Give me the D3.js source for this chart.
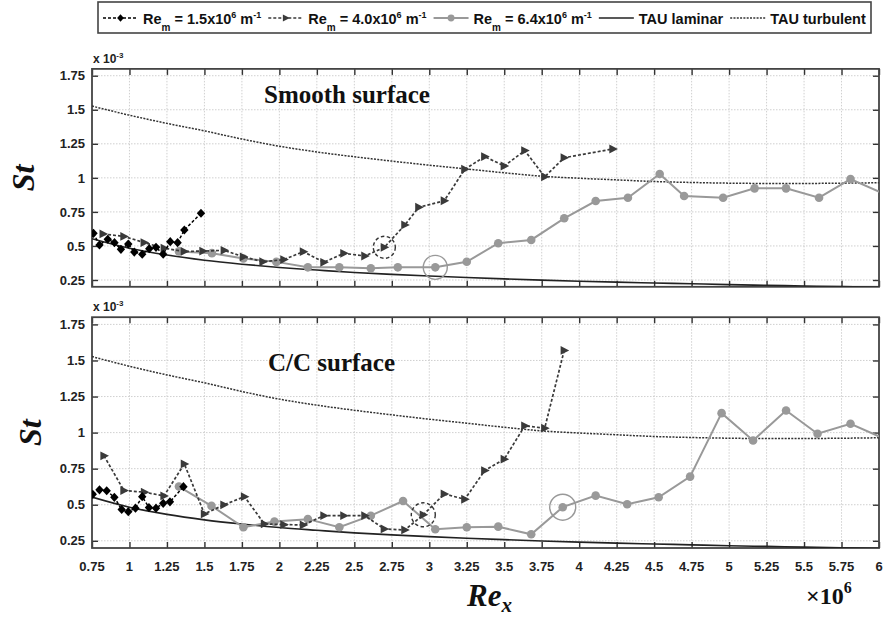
<!DOCTYPE html>
<html><head><meta charset="utf-8">
<script src="https://cdn.jsdelivr.net/npm/d3@7"></script>
<style>body{margin:0;background:#fff} svg{display:block}</style>
</head><body>
<svg id="chart" width="885" height="617"></svg>
<script>
// Re_x in units of 10^6, St in units of 10^-3
const xTicks = [0.75,1,1.25,1.5,1.75,2,2.25,2.5,2.75,3,3.25,3.5,3.75,4,4.25,4.5,4.75,5,5.25,5.5,5.75,6];
const xTickLabels = ["0.75","1","1.25","1.5","1.75","2","2.25","2.5","2.75","3","3.25","3.5","3.75","4","4.25","4.5","4.75","5","5.25","5.5","5.75","6"];
const yTicks = [0.25,0.5,0.75,1,1.25,1.5,1.75];
const yTickLabels = ["0.25","0.5","0.75","1","1.25","1.5","1.75"];

// TAU reference solutions
const tauLaminar = [[0.75,0.553],[1,0.483],[1.25,0.433],[1.5,0.395],[1.75,0.366],[2,0.342],[2.25,0.323],[2.5,0.305],[2.75,0.291],[3,0.279],[3.25,0.268],[3.5,0.258],[3.75,0.249],[4,0.241],[4.25,0.234],[4.5,0.228],[4.75,0.222],[5,0.216],[5.25,0.211],[5.5,0.206],[5.75,0.201],[6,0.197]];
const tauTurbulent = [[0.75,1.527],[1,1.46],[1.25,1.40],[1.5,1.345],[1.75,1.285],[2,1.232],[2.25,1.19],[2.5,1.155],[2.75,1.123],[3,1.093],[3.25,1.065],[3.5,1.037],[3.75,1.012],[4,0.997],[4.25,0.985],[4.5,0.973],[4.75,0.966],[5,0.961],[5.25,0.959],[5.5,0.959],[5.75,0.961],[6,0.964]];

// Smooth surface measurements
const smoothRe15 = [[0.76,0.593],[0.80,0.507],[0.855,0.549],[0.90,0.524],[0.943,0.475],[0.992,0.514],[1.032,0.455],[1.085,0.439],[1.132,0.48],[1.177,0.49],[1.225,0.439],[1.272,0.531],[1.321,0.524],[1.366,0.617],[1.477,0.74]];
const smoothRe40 = [[0.824,0.588],[0.963,0.57],[1.098,0.525],[1.232,0.483],[1.366,0.46],[1.49,0.462],[1.632,0.468],[1.76,0.42],[1.89,0.384],[2.03,0.40],[2.16,0.458],[2.297,0.38],[2.43,0.446],[2.57,0.426],[2.70,0.49],[2.837,0.654],[2.93,0.784],[3.10,0.832],[3.237,1.063],[3.37,1.156],[3.50,1.087],[3.637,1.20],[3.77,1.008],[3.90,1.148],[4.225,1.212]];
const smoothRe64 = [[1.33,0.46],[1.55,0.447],[1.76,0.408],[1.98,0.383],[2.19,0.343],[2.40,0.343],[2.61,0.336],[2.79,0.343],[3.04,0.343],[3.25,0.384],[3.46,0.52],[3.68,0.544],[3.90,0.703],[4.11,0.83],[4.325,0.854],[4.537,1.028],[4.70,0.867],[4.96,0.854],[5.17,0.923],[5.38,0.923],[5.60,0.854],[5.81,0.991],[6.06,0.87]];

// C/C surface measurements
const ccRe15 = [[0.755,0.572],[0.80,0.603],[0.848,0.597],[0.899,0.551],[0.948,0.467],[0.992,0.452],[1.04,0.476],[1.085,0.556],[1.13,0.48],[1.177,0.476],[1.225,0.51],[1.27,0.52],[1.36,0.625]];
const ccRe40 = [[0.83,0.839],[0.963,0.598],[1.10,0.587],[1.23,0.561],[1.366,0.783],[1.50,0.436],[1.63,0.499],[1.767,0.556],[1.90,0.367],[2.03,0.362],[2.16,0.36],[2.297,0.424],[2.43,0.424],[2.57,0.424],[2.70,0.332],[2.837,0.325],[2.96,0.43],[3.10,0.575],[3.237,0.538],[3.37,0.737],[3.50,0.816],[3.637,1.047],[3.77,1.031],[3.90,1.57]];
const ccRe64 = [[1.33,0.626],[1.547,0.492],[1.76,0.344],[1.967,0.383],[2.19,0.40],[2.40,0.344],[2.61,0.424],[2.825,0.526],[3.04,0.33],[3.25,0.344],[3.46,0.348],[3.68,0.295],[3.89,0.483],[4.11,0.563],[4.32,0.503],[4.53,0.552],[4.74,0.695],[4.95,1.135],[5.16,0.945],[5.38,1.153],[5.59,0.992],[5.81,1.061],[6.06,0.946]];

const legendLabels = [
  {key:"re15", base:"Re", sub:"m", rest:" = 1.5x10", sup:"6", unit:" m", unitSup:"-1"},
  {key:"re40", base:"Re", sub:"m", rest:" = 4.0x10", sup:"6", unit:" m", unitSup:"-1"},
  {key:"re64", base:"Re", sub:"m", rest:" = 6.4x10", sup:"6", unit:" m", unitSup:"-1"},
  {key:"lam", text:"TAU laminar"},
  {key:"turb", text:"TAU turbulent"}
];

const panels = [
  {title:"Smooth surface", re15:smoothRe15, re40:smoothRe40, re64:smoothRe64,
   top:68.9, bottom:286.8, showX:false, titleX:264, titleY:103, stX:24,
   marks:[{series:"re40", index:14, r:11, dashed:true},{series:"re64", index:8, r:12, dashed:false}]},
  {title:"C/C surface", re15:ccRe15, re40:ccRe40, re64:ccRe64,
   top:317.2, bottom:548, showX:true, titleX:268, titleY:371, stX:31,
   marks:[{series:"re40", index:16, r:12, dashed:true},{series:"re64", index:12, r:13, dashed:false}]}
];

const svg = d3.select("#chart");
const left = 92, right = 879;
const x = d3.scaleLinear().domain([0.75, 6]).range([left, right]);

const styles = {
  re15:{stroke:"#000", width:1.5, dash:"3,2", fill:"#000", shape:"diamond"},
  re40:{stroke:"#3a3a3a", width:1.7, dash:"3,2", fill:"#3a3a3a", shape:"triangle"},
  re64:{stroke:"#999", width:2, dash:null, fill:"#999", shape:"circle"},
  lam:{stroke:"#222", width:1.6, dash:null},
  turb:{stroke:"#333", width:1.5, dash:"2,1.3"}
};

function marker(sel, shape, color, s) {
  if (shape === "diamond") {
    sel.append("path").attr("d", `M0,${-4.6*s}L${4.2*s},0L0,${4.6*s}L${-4.2*s},0Z`).attr("fill", color);
  } else if (shape === "triangle") {
    sel.append("path").attr("d", `M${5*s},0L${-3.6*s},${-4.4*s}L${-3.6*s},${4.4*s}Z`).attr("fill", color);
  } else {
    sel.append("circle").attr("r", 4.3*s).attr("fill", color);
  }
}

const tickFont = "'Liberation Sans', Arial, sans-serif";

panels.forEach((p, pi) => {
  const y = d3.scaleLinear().domain([0.2, 1.8]).range([p.bottom, p.top]);
  const g = svg.append("g");
  const clipId = "clip" + pi;
  svg.append("clipPath").attr("id", clipId).append("rect")
    .attr("x", left).attr("y", p.top).attr("width", right - left).attr("height", p.bottom - p.top);

  // grid
  const grid = g.append("g").attr("stroke", "#c4c4c4").attr("stroke-width", 0.8).attr("stroke-dasharray", "1.5,1.5");
  xTicks.slice(1, -1).forEach(t => grid.append("line").attr("x1", x(t)).attr("x2", x(t)).attr("y1", p.top).attr("y2", p.bottom));
  yTicks.forEach(t => grid.append("line").attr("x1", left).attr("x2", right).attr("y1", y(t)).attr("y2", y(t)));

  // axes with inward ticks on all four sides
  const axL = d3.axisRight(y).tickValues(yTicks).tickSize(6).tickFormat("");
  const axR = d3.axisLeft(y).tickValues(yTicks).tickSize(6).tickFormat("");
  const axT = d3.axisBottom(x).tickValues(xTicks).tickSize(6).tickFormat("");
  const axB = d3.axisTop(x).tickValues(xTicks).tickSize(6).tickFormat("");
  [[axL, `translate(${left},0)`],[axR, `translate(${right},0)`],[axT, `translate(0,${p.top})`],[axB, `translate(0,${p.bottom})`]]
    .forEach(([ax, tr]) => {
      const a = g.append("g").attr("transform", tr).call(ax);
      a.select(".domain").remove();
      a.selectAll("line").attr("stroke", "#333").attr("stroke-width", 1.4);
    });
  g.append("rect").attr("x", left).attr("y", p.top).attr("width", right - left).attr("height", p.bottom - p.top)
    .attr("fill", "none").attr("stroke", "#444").attr("stroke-width", 1.8);

  // y tick labels
  yTicks.forEach((t, i) => g.append("text").attr("x", 85).attr("y", y(t)).attr("dy", "0.36em")
    .attr("text-anchor", "end").attr("font-family", tickFont).attr("font-weight", "bold")
    .attr("font-size", 13).attr("fill", "#222").text(yTickLabels[i]));

  // x tick labels (lower panel only)
  if (p.showX) {
    xTicks.forEach((t, i) => g.append("text").attr("x", x(t)).attr("y", p.bottom + 23)
      .attr("text-anchor", "middle").attr("font-family", tickFont).attr("font-weight", "bold")
      .attr("font-size", 13).attr("fill", "#222").text(xTickLabels[i]));
  }

  // exponent label
  const ex = g.append("text").attr("x", left + 1).attr("y", p.top - 6).attr("font-family", tickFont)
    .attr("font-weight", "bold").attr("font-size", 12).attr("fill", "#222");
  ex.append("tspan").text("x 10");
  ex.append("tspan").attr("dy", -5).attr("font-size", 8).text("-3");

  // St label
  g.append("text").attr("transform", `translate(${p.stX + 10},${(p.top + p.bottom) / 2}) rotate(-90)`)
    .attr("text-anchor", "middle").attr("font-family", "'Liberation Serif', 'Times New Roman', serif")
    .attr("font-weight", "bold").attr("font-style", "italic").attr("font-size", 32).attr("fill", "#111").text("St");

  // title
  g.append("text").attr("x", p.titleX).attr("y", p.titleY)
    .attr("font-family", "'Liberation Serif', 'Times New Roman', serif").attr("font-weight", "bold")
    .attr("font-size", 25).attr("fill", "#111").text(p.title);

  const plot = g.append("g").attr("clip-path", `url(#${clipId})`);
  const line = d3.line().x(d => x(d[0])).y(d => y(d[1]));
  const smooth = d3.line().x(d => x(d[0])).y(d => y(d[1])).curve(d3.curveMonotoneX);

  [["turb", tauTurbulent], ["lam", tauLaminar]].forEach(([k, data]) => {
    const s = styles[k];
    plot.append("path").datum(data).attr("d", smooth).attr("fill", "none")
      .attr("stroke", s.stroke).attr("stroke-width", s.width).attr("stroke-dasharray", s.dash);
  });

  ["re64", "re40", "re15"].forEach(k => {
    const s = styles[k];
    const data = p[k];
    plot.append("path").datum(data).attr("d", line).attr("fill", "none")
      .attr("stroke", s.stroke).attr("stroke-width", s.width).attr("stroke-dasharray", s.dash);
    data.forEach(d => {
      const m = plot.append("g").attr("transform", `translate(${x(d[0])},${y(d[1])})`);
      marker(m, s.shape, s.fill, 1);
    });
  });

  // highlighted points
  p.marks.forEach(mk => {
    const d = p[mk.series][mk.index];
    g.append("circle").attr("cx", x(d[0])).attr("cy", y(d[1])).attr("r", mk.r).attr("fill", "none")
      .attr("stroke", mk.dashed ? "#333" : "#999").attr("stroke-width", 1.4)
      .attr("stroke-dasharray", mk.dashed ? "3.5,2.5" : null);
  });
});

// x axis title
const xt = svg.append("text").attr("x", 467).attr("y", 606)
  .attr("font-family", "'Liberation Serif', 'Times New Roman', serif").attr("font-weight", "bold")
  .attr("fill", "#111");
xt.append("tspan").attr("font-style", "italic").attr("font-size", 31).text("Re");
xt.append("tspan").attr("font-style", "italic").attr("font-size", 21).attr("dy", 6).text("x");
const xs = svg.append("text").attr("x", 806).attr("y", 604)
  .attr("font-family", "'Liberation Serif', 'Times New Roman', serif").attr("font-weight", "bold")
  .attr("fill", "#111").attr("font-size", 24);
xs.append("tspan").text("\u00d710");
xs.append("tspan").attr("dy", -11).attr("font-size", 16).text("6");

// legend
const lg = svg.append("g");
const lgBox = lg.append("rect").attr("x", 98).attr("y", 2).attr("width", 773).attr("height", 31)
  .attr("fill", "#fff").attr("stroke", "#444").attr("stroke-width", 1.6);
let cx = 103;
const ly = 18, textY = 24;
legendLabels.forEach(item => {
  const s = styles[item.key];
  const lineLen = 35;
  lg.append("line").attr("x1", cx).attr("x2", cx + lineLen).attr("y1", ly).attr("y2", ly)
    .attr("stroke", s.stroke).attr("stroke-width", s.width).attr("stroke-dasharray", s.dash);
  if (s.shape) {
    const m = lg.append("g").attr("transform", `translate(${cx + lineLen / 2},${ly})`);
    marker(m, s.shape, s.fill, 0.8);
  }
  const t = lg.append("text").attr("x", cx + lineLen + 5).attr("y", textY)
    .attr("font-family", tickFont).attr("font-weight", "bold").attr("font-size", 14.5).attr("fill", "#111");
  if (item.text) {
    t.text(item.text);
  } else {
    t.append("tspan").text(item.base);
    t.append("tspan").attr("font-size", 10).attr("dy", 7).text(item.sub);
    t.append("tspan").attr("dy", -7).text(item.rest);
    t.append("tspan").attr("font-size", 9).attr("dy", -6).text(item.sup);
    t.append("tspan").attr("dy", 6).text(item.unit);
    t.append("tspan").attr("font-size", 9).attr("dy", -6).text(item.unitSup);
  }
  cx += lineLen + 5 + t.node().getComputedTextLength() + 7;
});
</script>
</body></html>
